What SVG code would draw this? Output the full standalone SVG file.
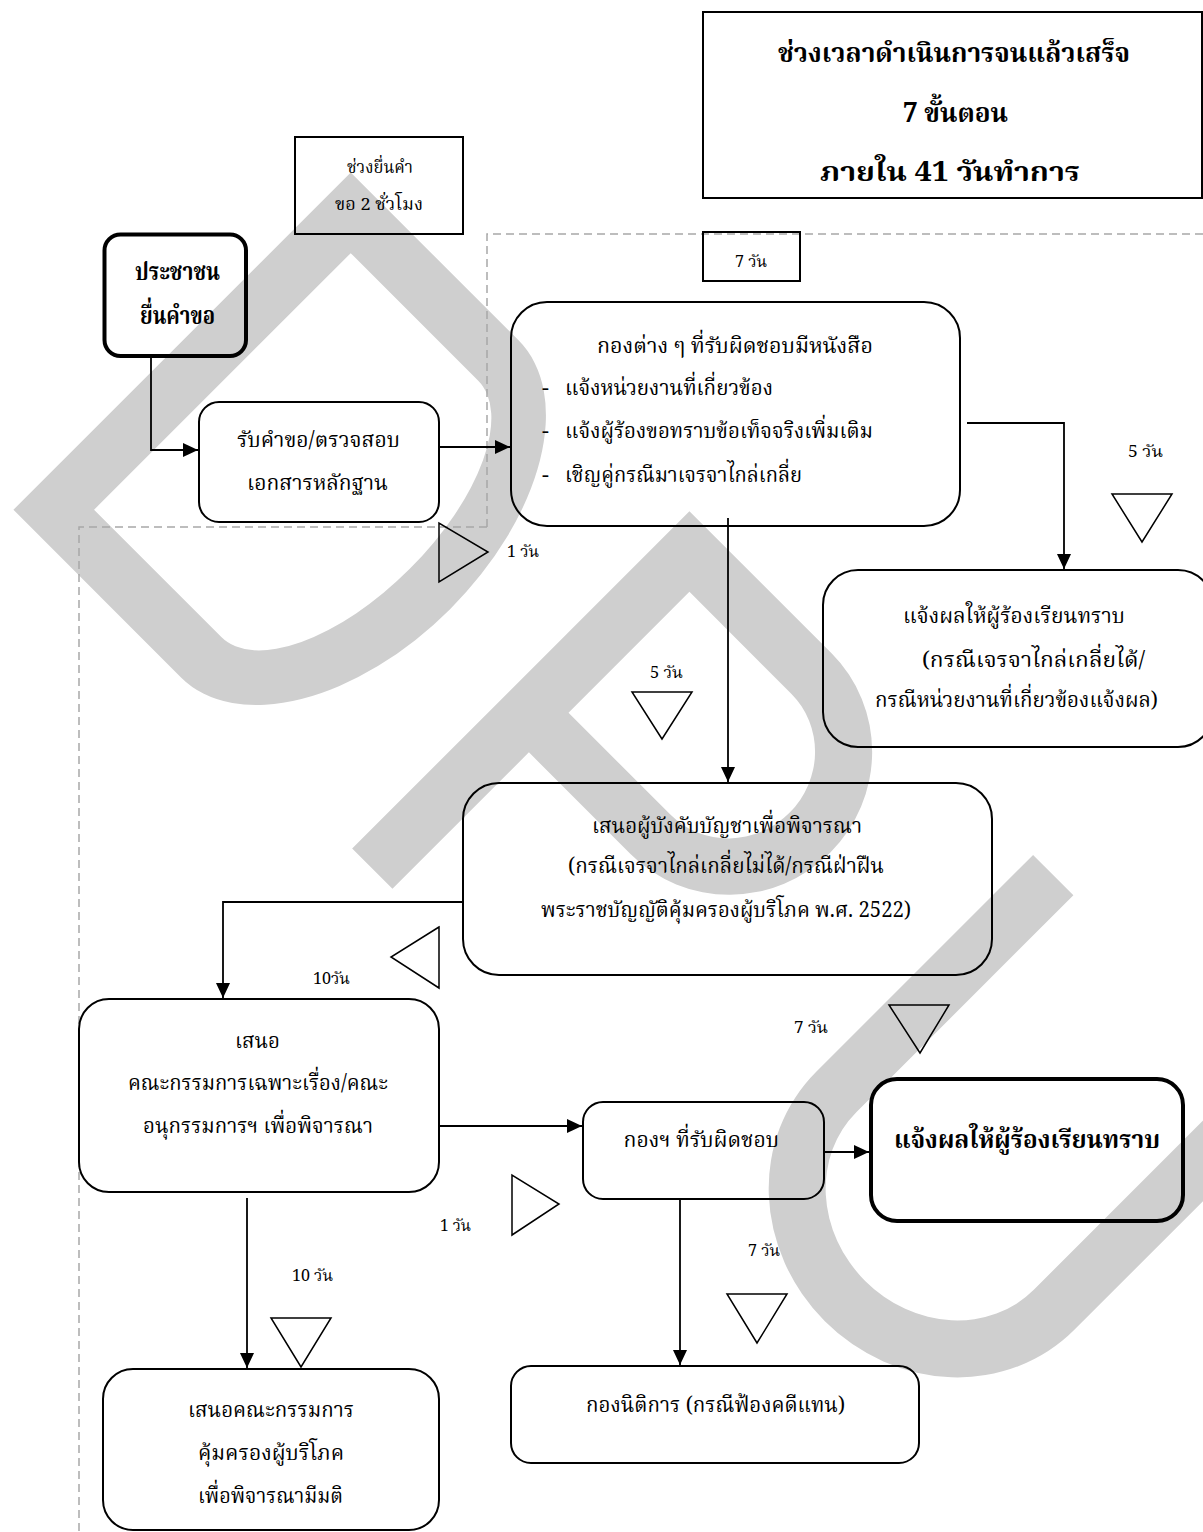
<svg xmlns="http://www.w3.org/2000/svg" width="1203" height="1532" viewBox="0 0 1203 1532">
<style>
.t{font-family:"Noto Serif Thai","Liberation Serif","DejaVu Serif",serif;fill:#000;}
.n{font-size:22px;}
.s{font-size:16px;}
.b{font-weight:bold;}
.box{fill:none;stroke:#000;stroke-width:2;}
.thick{fill:none;stroke:#000;stroke-width:4;}
.tri{fill:none;stroke:#000;stroke-width:1.5;stroke-linejoin:miter;}
.dash{fill:none;stroke:#a8a8a8;stroke-width:1.5;stroke-dasharray:8 5;}
.con{fill:none;stroke:#000;stroke-width:1.8;}
</style>
<defs>
<marker id="arr" markerUnits="userSpaceOnUse" markerWidth="16" markerHeight="14" refX="15" refY="7" orient="auto">
<path d="M0,0 L15,7 L0,14 Z" fill="#000"/>
</marker>
</defs>
<rect width="1203" height="1532" fill="#fff"/>
<g id="watermark" transform="rotate(45)" fill="#cfcfcf" fill-rule="evenodd">
<path d="M370,-126 H607 A142,238.5 0 0 1 607,351 H370 Z M427,-69 H607 A85,181.5 0 0 1 607,294 H427 Z"/>
<path d="M849,-126 H1050 A140,142 0 0 1 1050,158 H906 V351 H849 Z M906,-69 H1050 A83,85.5 0 0 1 1050,102 H906 Z"/>
<path d="M1335,-126 V181 A182.5,170 0 0 0 1700,181 V-126 H1643 V181 A125.5,113 0 0 1 1392,181 V-126 Z"/>
</g>
<g id="frames">
<path class="dash" d="M487,527 V234 H1203"/>
<path class="dash" d="M487,527 H79 V1532"/>
</g>
<g id="title">
<rect class="box" x="703" y="12" width="499" height="186"/>
<text class="t b" font-size="27" x="778" y="62" textLength="352" lengthAdjust="spacingAndGlyphs">ช่วงเวลาดำเนินการจนแล้วเสร็จ</text>
<text class="t b" font-size="27" x="903" y="122" textLength="105" lengthAdjust="spacingAndGlyphs">7 ขั้นตอน</text>
<text class="t b" font-size="27" x="820" y="181" textLength="260" lengthAdjust="spacingAndGlyphs">ภายใน 41 วันทำการ</text>
</g>
<g id="period">
<rect class="box" x="295" y="137" width="168" height="97"/>
<text class="t" font-size="17" x="347" y="173" textLength="66" lengthAdjust="spacingAndGlyphs">ช่วงยื่นคำ</text>
<text class="t" font-size="17" x="335" y="210" textLength="88" lengthAdjust="spacingAndGlyphs">ขอ 2 ชั่วโมง</text>
</g>
<g id="citizen">
<rect class="thick" x="104.5" y="234.5" width="141.5" height="121.5" rx="16"/>
<text class="t b" font-size="25" x="135" y="280" textLength="85" lengthAdjust="spacingAndGlyphs">ประชาชน</text>
<text class="t b" font-size="25" x="140" y="324" textLength="75" lengthAdjust="spacingAndGlyphs">ยื่นคำขอ</text>
</g>
<g id="receive">
<rect class="box" x="199" y="402" width="240" height="120" rx="20"/>
<text class="t n" x="237" y="447" textLength="163" lengthAdjust="spacingAndGlyphs">รับคำขอ/ตรวจสอบ</text>
<text class="t n" x="247" y="490" textLength="141" lengthAdjust="spacingAndGlyphs">เอกสารหลักฐาน</text>
</g>
<g id="days7box">
<rect class="box" x="703" y="232" width="97" height="49" fill="#fff"/>
<text class="t s" x="735" y="267" textLength="32" lengthAdjust="spacingAndGlyphs">7 วัน</text>
</g>
<g id="divisions">
<rect class="box" x="511" y="302" width="449" height="224" rx="36"/>
<text class="t n" x="597" y="353" textLength="276" lengthAdjust="spacingAndGlyphs">กองต่าง ๆ ที่รับผิดชอบมีหนังสือ</text>
<text class="t n" x="542" y="395">-</text>
<text class="t n" x="565" y="395" textLength="208" lengthAdjust="spacingAndGlyphs">แจ้งหน่วยงานที่เกี่ยวข้อง</text>
<text class="t n" x="542" y="438">-</text>
<text class="t n" x="565" y="438" textLength="308" lengthAdjust="spacingAndGlyphs">แจ้งผู้ร้องขอทราบข้อเท็จจริงเพิ่มเติม</text>
<text class="t n" x="542" y="482">-</text>
<text class="t n" x="565" y="482" textLength="237" lengthAdjust="spacingAndGlyphs">เชิญคู่กรณีมาเจรจาไกล่เกลี่ย</text>
</g>
<g id="notify1">
<rect class="box" x="823" y="570" width="390" height="177" rx="35"/>
<text class="t n" x="903" y="623" textLength="222" lengthAdjust="spacingAndGlyphs">แจ้งผลให้ผู้ร้องเรียนทราบ</text>
<text class="t n" x="922" y="667" textLength="223" lengthAdjust="spacingAndGlyphs">(กรณีเจรจาไกล่เกลี่ยได้/</text>
<text class="t n" x="875" y="707" textLength="283" lengthAdjust="spacingAndGlyphs">กรณีหน่วยงานที่เกี่ยวข้องแจ้งผล)</text>
</g>
<g id="supervisor">
<rect class="box" x="463" y="783" width="529" height="192" rx="36"/>
<text class="t n" x="592" y="833" textLength="270" lengthAdjust="spacingAndGlyphs">เสนอผู้บังคับบัญชาเพื่อพิจารณา</text>
<text class="t n" x="568" y="873" textLength="316" lengthAdjust="spacingAndGlyphs">(กรณีเจรจาไกล่เกลี่ยไม่ได้/กรณีฝ่าฝืน</text>
<text class="t n" x="541" y="917" textLength="370" lengthAdjust="spacingAndGlyphs">พระราชบัญญัติคุ้มครองผู้บริโภค พ.ศ. 2522)</text>
</g>
<g id="committee">
<rect class="box" x="79" y="999" width="360" height="193" rx="30"/>
<text class="t n" x="235" y="1048" textLength="45" lengthAdjust="spacingAndGlyphs">เสนอ</text>
<text class="t n" x="128" y="1090" textLength="260" lengthAdjust="spacingAndGlyphs">คณะกรรมการเฉพาะเรื่อง/คณะ</text>
<text class="t n" x="143" y="1133" textLength="230" lengthAdjust="spacingAndGlyphs">อนุกรรมการฯ เพื่อพิจารณา</text>
</g>
<g id="responsible">
<rect class="box" x="583" y="1102" width="241" height="97" rx="20"/>
<text class="t n" x="623.5" y="1147" textLength="155.5" lengthAdjust="spacingAndGlyphs">กองฯ ที่รับผิดชอบ</text>
</g>
<g id="notify2">
<rect class="thick" x="871" y="1079" width="312" height="142" rx="26"/>
<text class="t b" font-size="25" x="894" y="1148" textLength="266" lengthAdjust="spacingAndGlyphs">แจ้งผลให้ผู้ร้องเรียนทราบ</text>
</g>
<g id="legal">
<rect class="box" x="511" y="1366" width="408" height="97" rx="20"/>
<text class="t n" x="586" y="1412" textLength="259" lengthAdjust="spacingAndGlyphs">กองนิติการ (กรณีฟ้องคดีแทน)</text>
</g>
<g id="board">
<rect class="box" x="103" y="1369" width="336" height="161" rx="30"/>
<text class="t n" x="188" y="1417" textLength="166" lengthAdjust="spacingAndGlyphs">เสนอคณะกรรมการ</text>
<text class="t n" x="198" y="1460" textLength="146" lengthAdjust="spacingAndGlyphs">คุ้มครองผู้บริโภค</text>
<text class="t n" x="198" y="1503" textLength="145" lengthAdjust="spacingAndGlyphs">เพื่อพิจารณามีมติ</text>
</g>
<g id="timers">
<text class="t s" x="1128" y="457" textLength="35" lengthAdjust="spacingAndGlyphs">5 วัน</text>
<path class="tri" d="M1112,494 H1172 L1142,542 Z"/>
<path class="tri" d="M439,523 V582 L488,552 Z"/>
<text class="t s" x="507" y="557" textLength="32" lengthAdjust="spacingAndGlyphs">1 วัน</text>
<text class="t s" x="650" y="678" textLength="33" lengthAdjust="spacingAndGlyphs">5 วัน</text>
<path class="tri" d="M632,692 H692 L662,739 Z"/>
<path class="tri" d="M439,927 L391,957 L439,988 Z"/>
<text class="t s" x="313" y="984" textLength="37" lengthAdjust="spacingAndGlyphs">10วัน</text>
<text class="t s" x="794" y="1033" textLength="34" lengthAdjust="spacingAndGlyphs">7 วัน</text>
<path class="tri" d="M889,1005 H949 L920,1053 Z"/>
<path class="tri" d="M512,1175 V1235 L559,1204 Z"/>
<text class="t s" x="440" y="1231" textLength="31" lengthAdjust="spacingAndGlyphs">1 วัน</text>
<text class="t s" x="748" y="1256" textLength="32" lengthAdjust="spacingAndGlyphs">7 วัน</text>
<path class="tri" d="M727,1294 H787 L757,1343 Z"/>
<text class="t s" x="292" y="1281" textLength="41" lengthAdjust="spacingAndGlyphs">10 วัน</text>
<path class="tri" d="M271,1318 H331 L301,1367 Z"/>
</g>
<g id="connectors">
<path class="con" d="M151,356 V450 H198" marker-end="url(#arr)"/>
<path class="con" d="M439,447 H510" marker-end="url(#arr)"/>
<path class="con" d="M967,423 H1064 V569" marker-end="url(#arr)"/>
<path class="con" d="M728,518 V782" marker-end="url(#arr)"/>
<path class="con" d="M463,902 H223 V998" marker-end="url(#arr)"/>
<path class="con" d="M439,1126 H582" marker-end="url(#arr)"/>
<path class="con" d="M824,1152 H869" marker-end="url(#arr)"/>
<path class="con" d="M680,1199 V1365" marker-end="url(#arr)"/>
<path class="con" d="M247,1198 V1368" marker-end="url(#arr)"/>
</g>
</svg>
